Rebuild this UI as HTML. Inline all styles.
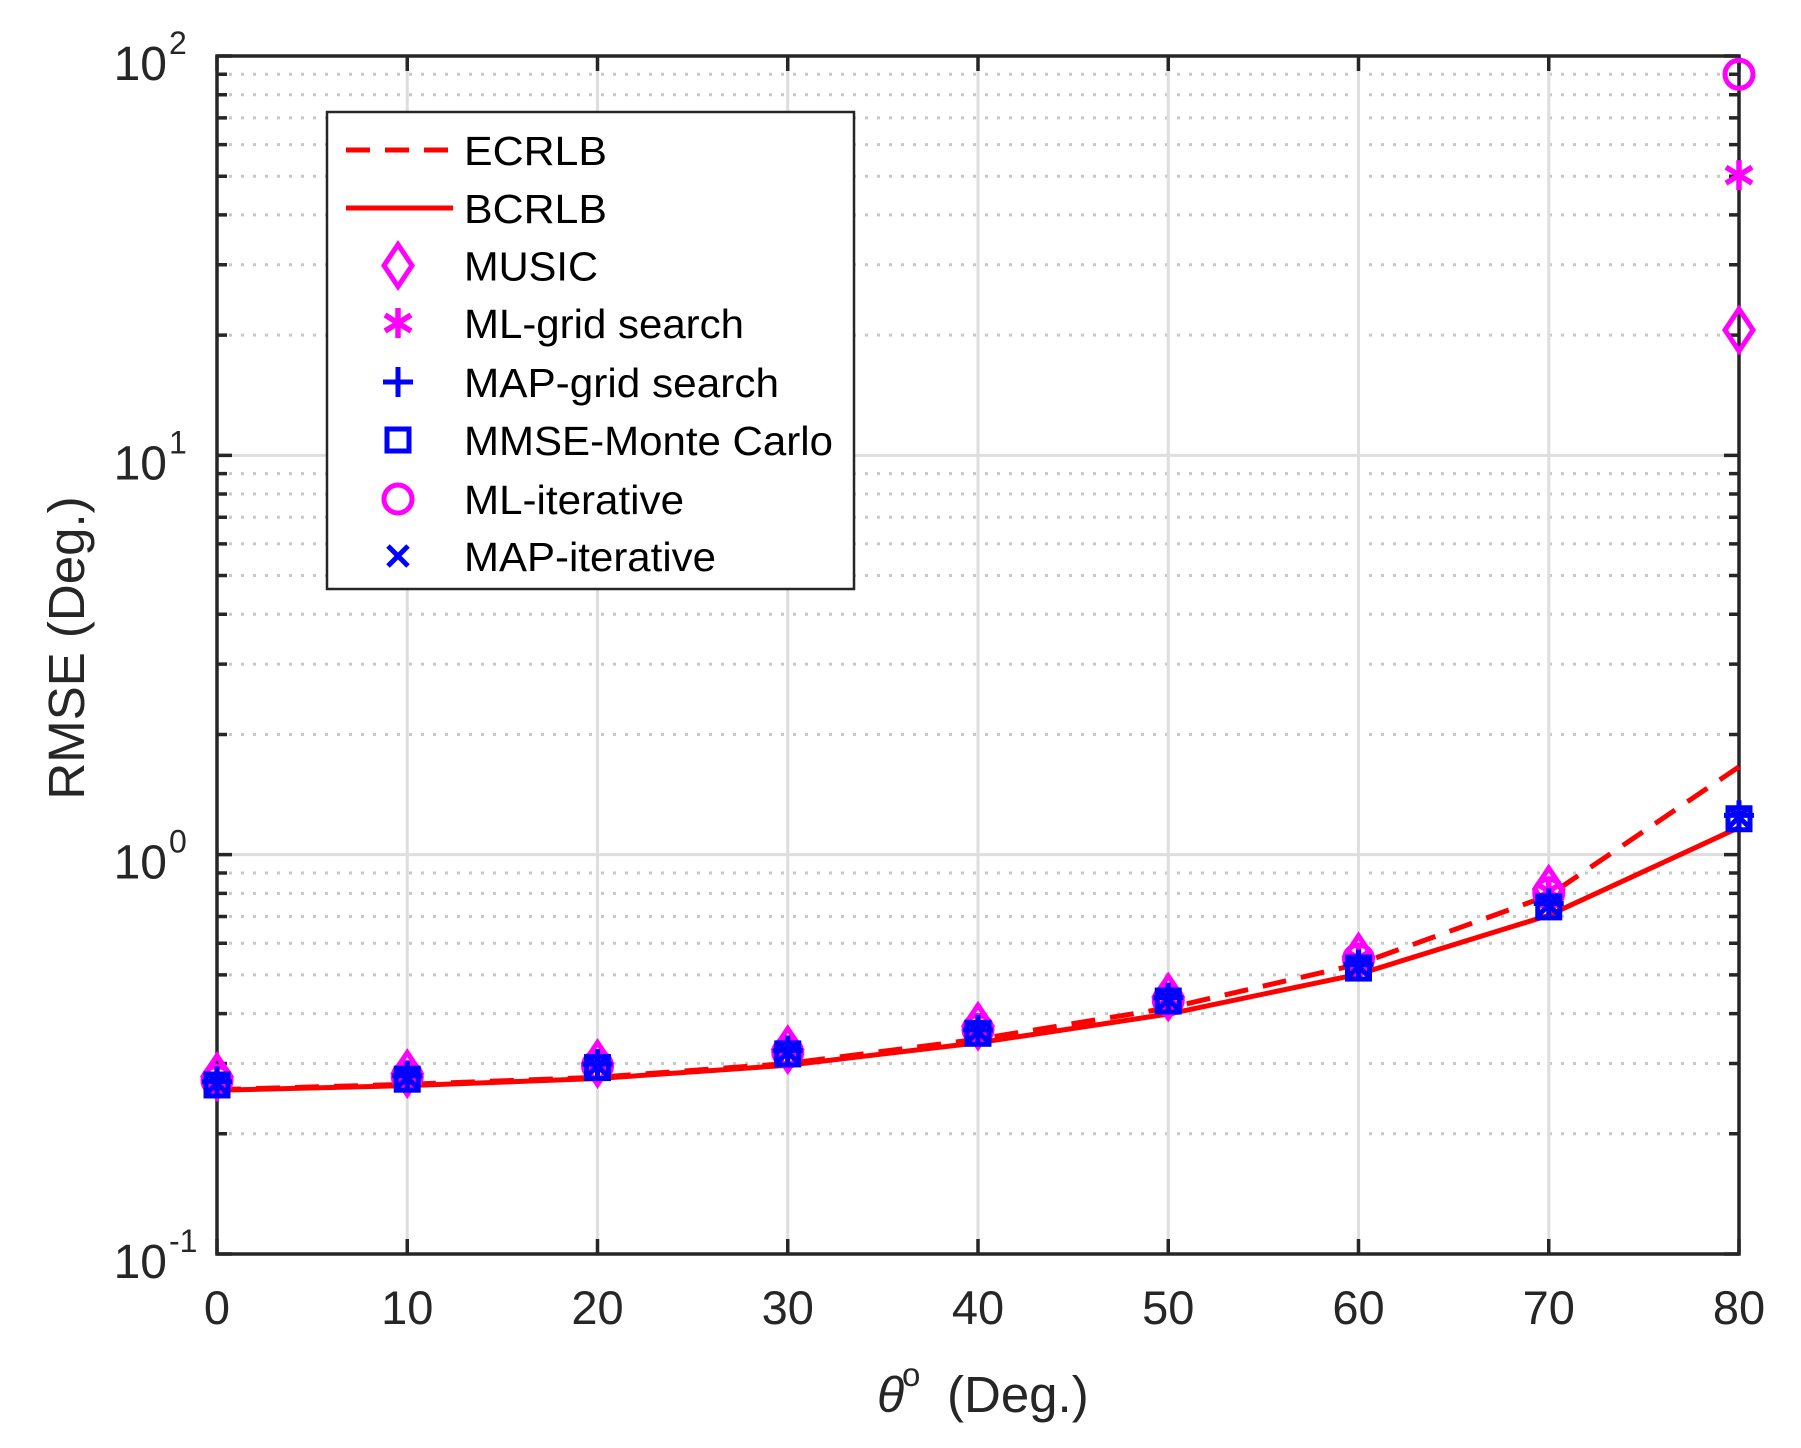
<!DOCTYPE html>
<html><head><meta charset="utf-8"><style>
html,body{margin:0;padding:0;background:#fff;width:1801px;height:1448px;overflow:hidden}
svg{display:block}
text{font-family:"Liberation Sans",Arial,sans-serif;fill:#262626}
</style></head><body>
<svg id="s" width="1801" height="1448" xmlns="http://www.w3.org/2000/svg"></svg>
<script>
const L=217,R=1739,T=56,B=1254,D=(B-T)/3;
const X=v=>L+(R-L)*v/80, Y=v=>B-(Math.log10(v)+1)*D;
let h='';
for(let e=-1;e<2;e++)for(let m=2;m<=9;m++){const y=Y(m*Math.pow(10,e));
h+=`<line x1="${L}" x2="${R}" y1="${y}" y2="${y}" stroke="#c8c8c8" stroke-width="3" stroke-dasharray="3 9"/>`;}
for(let i=1;i<8;i++){const x=X(i*10);h+=`<line x1="${x}" x2="${x}" y1="${T}" y2="${B}" stroke="#dedede" stroke-width="3"/>`;}
for(let e=0;e<2;e++){const y=Y(Math.pow(10,e));h+=`<line x1="${L}" x2="${R}" y1="${y}" y2="${y}" stroke="#dedede" stroke-width="3"/>`;}
let tk='';
for(let i=0;i<=8;i++){const x=X(i*10);tk+=`M${x} ${B}v-15M${x} ${T}v15`;
h+=`<text x="${x}" y="${B+70}" font-size="47" text-anchor="middle">${i*10}</text>`;}
for(let e=-1;e<=2;e++){const y=Y(Math.pow(10,e));tk+=`M${L} ${y}h15M${R} ${y}h-15`;
h+=`<text x="${L-50}" y="${y+24}" font-size="48" text-anchor="end">10</text><text x="${L-48}" y="${y-2}" font-size="32">${e}</text>`;
if(e<2)for(let m=2;m<=9;m++){const yy=Y(m*Math.pow(10,e));tk+=`M${L} ${yy}h10M${R} ${yy}h-10`;}}
h+=`<path d="${tk}" stroke="#262626" stroke-width="3.5" fill="none"/>`;
h+=`<rect x="${L}" y="${T}" width="${R-L}" height="${B-T}" fill="none" stroke="#262626" stroke-width="3.5"/>`;
const xs=[0,10,20,30,40,50,60,70,80];
const bc=[0.257,0.264,0.275,0.297,0.338,0.399,0.502,0.705,1.17];
const ec=[0.258,0.266,0.277,0.300,0.345,0.413,0.532,0.79,1.66];
const pts=a=>a.map((v,i)=>`${X(xs[i])},${Y(v)}`).join(' ');
h+=`<polyline points="${pts(ec)}" fill="none" stroke="#f00" stroke-width="5" stroke-dasharray="24 15"/>`;
h+=`<polyline points="${pts(bc)}" fill="none" stroke="#f00" stroke-width="5"/>`;
const mus=[0.278,0.283,0.3,0.325,0.372,0.44,0.555,0.82,20.6];
const mlg=[0.275,0.28,0.297,0.322,0.368,0.435,0.55,0.81,50.3];
const mli=[0.272,0.278,0.296,0.32,0.365,0.432,0.548,0.8,90];
const mm=[0.265,0.274,0.293,0.317,0.357,0.43,0.52,0.74,1.23];
const diamond=(x,y)=>`<path d="M${x} ${y-21}L${x+14} ${y}L${x} ${y+21}L${x-14} ${y}Z" fill="none" stroke="#f0f" stroke-width="5"/>`;
const circ=(x,y)=>`<circle cx="${x}" cy="${y}" r="14" fill="none" stroke="#f0f" stroke-width="5"/>`;
const star=(x,y)=>`<path d="M${x} ${y-15}V${y+15}M${x-13} ${y-8}L${x+13} ${y+8}M${x-13} ${y+8}L${x+13} ${y-8}" stroke="#f0f" stroke-width="5.5"/>`;
const plus=(x,y)=>`<path d="M${x} ${y-15}V${y+15}M${x-15} ${y}H${x+15}" stroke="#00f" stroke-width="5"/>`;
const sq=(x,y)=>`<rect x="${x-11}" y="${y-11}" width="22" height="22" fill="none" stroke="#00f" stroke-width="5"/>`;
const cross=(x,y)=>`<path d="M${x-10} ${y-10}L${x+10} ${y+10}M${x-10} ${y+10}L${x+10} ${y-10}" stroke="#00f" stroke-width="5"/>`;
xs.forEach((v,i)=>{const x=X(v);
h+=diamond(x,Y(mus[i]))+star(x,Y(mlg[i]))+circ(x,Y(mli[i]));
h+=sq(x,Y(mm[i]))+plus(x,Y(mm[i]*1.02))+cross(x,Y(mm[i]*1.01));});
h+=`<rect x="327" y="112" width="527" height="477" fill="#fff" stroke="#262626" stroke-width="2.5"/>`;
const ry=[150,208,265.5,323,382,440,499,556];
const names=['ECRLB','BCRLB','MUSIC','ML-grid search','MAP-grid search','MMSE-Monte Carlo','ML-iterative','MAP-iterative'];
h+=`<line x1="346" x2="453" y1="${ry[0]}" y2="${ry[0]}" stroke="#f00" stroke-width="5" stroke-dasharray="24 15"/>`;
h+=`<line x1="346" x2="453" y1="${ry[1]}" y2="${ry[1]}" stroke="#f00" stroke-width="5"/>`;
h+=diamond(398,ry[2])+star(398,ry[3])+plus(398,ry[4])+sq(398,ry[5])+circ(398,ry[6])+cross(398,ry[7]);
names.forEach((n,i)=>h+=`<text x="464" y="${ry[i]+15}" font-size="41" style="fill:#000" textLength="${[143,143,134,280,315,369,220,252][i]}" lengthAdjust="spacingAndGlyphs">${n}</text>`);
h+=`<text transform="translate(84,648) rotate(-90)" font-size="51" text-anchor="middle">RMSE (Deg.)</text>`;
h+=`<text x="877" y="1412" font-size="50" font-family="Liberation Serif" font-style="italic">θ</text><text x="902" y="1386" font-size="33">o</text><text x="947" y="1412" font-size="51">(Deg.)</text>`;
document.getElementById('s').innerHTML=h;
</script>
</body></html>
